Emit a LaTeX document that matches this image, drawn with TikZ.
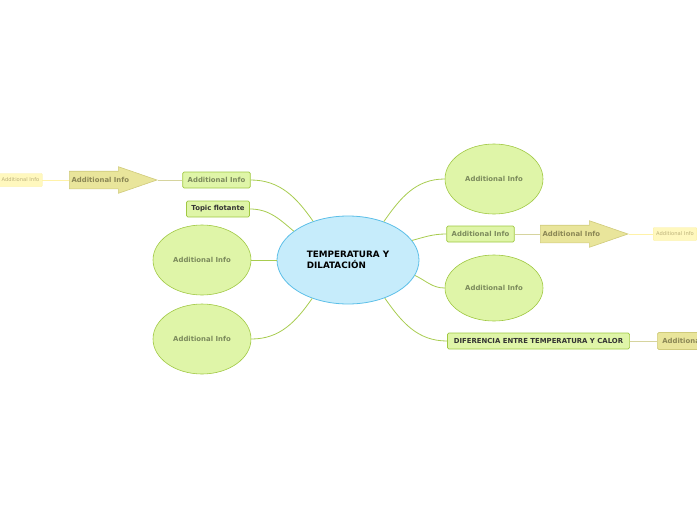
\documentclass[tikz,border=0pt]{standalone}
\usepackage{fontspec}
\setmainfont{DejaVu Sans}
\usetikzlibrary{shapes.geometric,shapes.arrows}
\definecolor{mainfill}{HTML}{C6ECFB}
\definecolor{mainline}{HTML}{5CBFE8}
\definecolor{greenfill}{HTML}{DFF5A8}
\definecolor{greenline}{HTML}{A0C843}
\definecolor{greentext}{HTML}{7B8A5C}
\definecolor{arrowfill}{HTML}{E9E59B}
\definecolor{arrowline}{HTML}{D0CB7C}
\definecolor{arrowtext}{HTML}{8B8755}
\definecolor{notefill}{HTML}{FFF8BE}
\definecolor{noteline}{HTML}{FBEE9F}
\definecolor{notetext}{HTML}{BDB27A}
\definecolor{linkgreen}{HTML}{A8CC50}
\definecolor{linktan}{HTML}{D6D49E}
\definecolor{linknote}{HTML}{FFF2A8}
\begin{document}
\begin{tikzpicture}[x=1pt, y=1pt, every node/.style={font=\bfseries\fontsize{6.9}{7}\selectfont},
	main/.style={draw=mainline, fill=mainfill, ellipse, minimum width=142pt, minimum height=88pt, line width=0.8pt, align=left, font=\bfseries\fontsize{8.8}{11}\selectfont},
	blob/.style={draw=greenline, fill=greenfill, ellipse, minimum width=98pt, minimum height=70pt, inner sep=0pt, text=greentext, line width=0.6pt},
	topic/.style={draw=greenline, fill=greenfill, rounded corners=1.5pt, minimum height=16pt, inner xsep=5pt, inner ysep=0pt, text=greentext, line width=0.7pt},
	harrow/.style={single arrow, draw=arrowline, fill=arrowfill, text=arrowtext, minimum height=80pt, minimum width=26pt, single arrow head extend=4.5pt, single arrow tip angle=38, inner ysep=5.5pt, inner xsep=2pt, text height=5pt, text depth=1pt, line width=0.6pt},
	note/.style={draw=noteline, fill=notefill, text=notetext, rounded corners=1pt, font=\fontsize{5.2}{6}\selectfont, minimum height=13pt, inner xsep=3pt, inner ysep=0pt},
	link/.style={draw=linkgreen, line width=0.8pt}]
	\useasboundingbox (0,0) rectangle (697,-520);
	\clip (0,0) rectangle (697,-520);
	\node[main] (c) at (348,-260) {TEMPERATURA Y\\DILATACIÓN};
	% left side
	\node[topic] (lb) at (216.5,-180) {Additional Info};
	\node[harrow, anchor=tail] (la) at (69,-180) {Additional Info};
	\node[note] (ln) at (20.5,-180) {Additional Info};
	\node[topic, text=black!80] (tf) at (218,-209) {Topic flotante};
	\node[blob] (le1) at (202,-260) {Additional Info};
	\node[blob] (le2) at (202,-339) {Additional Info};
	% right side
	\node[blob] (re1) at (494,-179) {Additional Info};
	\node[topic] (rb) at (480.5,-234) {Additional Info};
	\node[harrow, anchor=tail] (ra) at (540,-234) {Additional Info};
	\node[note, anchor=west] (rn) at (653,-234) {Additional Info};
	\node[blob, minimum height=66pt] (re2) at (494,-288) {Additional Info};
	\node[topic, text=black!80, inner xsep=6.5pt] (dif) at (538.5,-341) {DIFERENCIA ENTRE TEMPERATURA Y CALOR};
	\node[topic, draw=arrowline, fill=arrowfill, text=arrowtext, minimum height=17pt, anchor=west] (dn) at (657,-341) {Additional Info};
	% connectors
	\draw[link] (c.132) to[out=125, in=0] (lb.east);
	\draw[link] (c.152) to[out=140, in=0] (tf.east);
	\draw[link] (c.west) -- (le1.east);
	\draw[link] (c.227) to[out=235, in=0] (le2.east);
	\draw[link] (c.47) to[out=55, in=180] (re1.west);
	\draw[link] (c.17) to[out=15, in=180] (rb.west);
	\draw[link] (c.-13) to[out=-25, in=180] (re2.west);
	\draw[link] (c.-46) to[out=-55, in=180] (dif.west);
	\draw[linktan, line width=0.8pt] (la.tip) -- (lb.west);
	\draw[linktan, line width=0.8pt] (rb.east) -- (ra.tail);
	\draw[linktan, line width=0.8pt] (dif.east) -- (dn.west);
	\draw[linknote, line width=0.8pt] (ln.east) -- (la.tail);
	\draw[linknote, line width=0.8pt] (ra.tip) -- (rn.west);
\end{tikzpicture}
\end{document}
